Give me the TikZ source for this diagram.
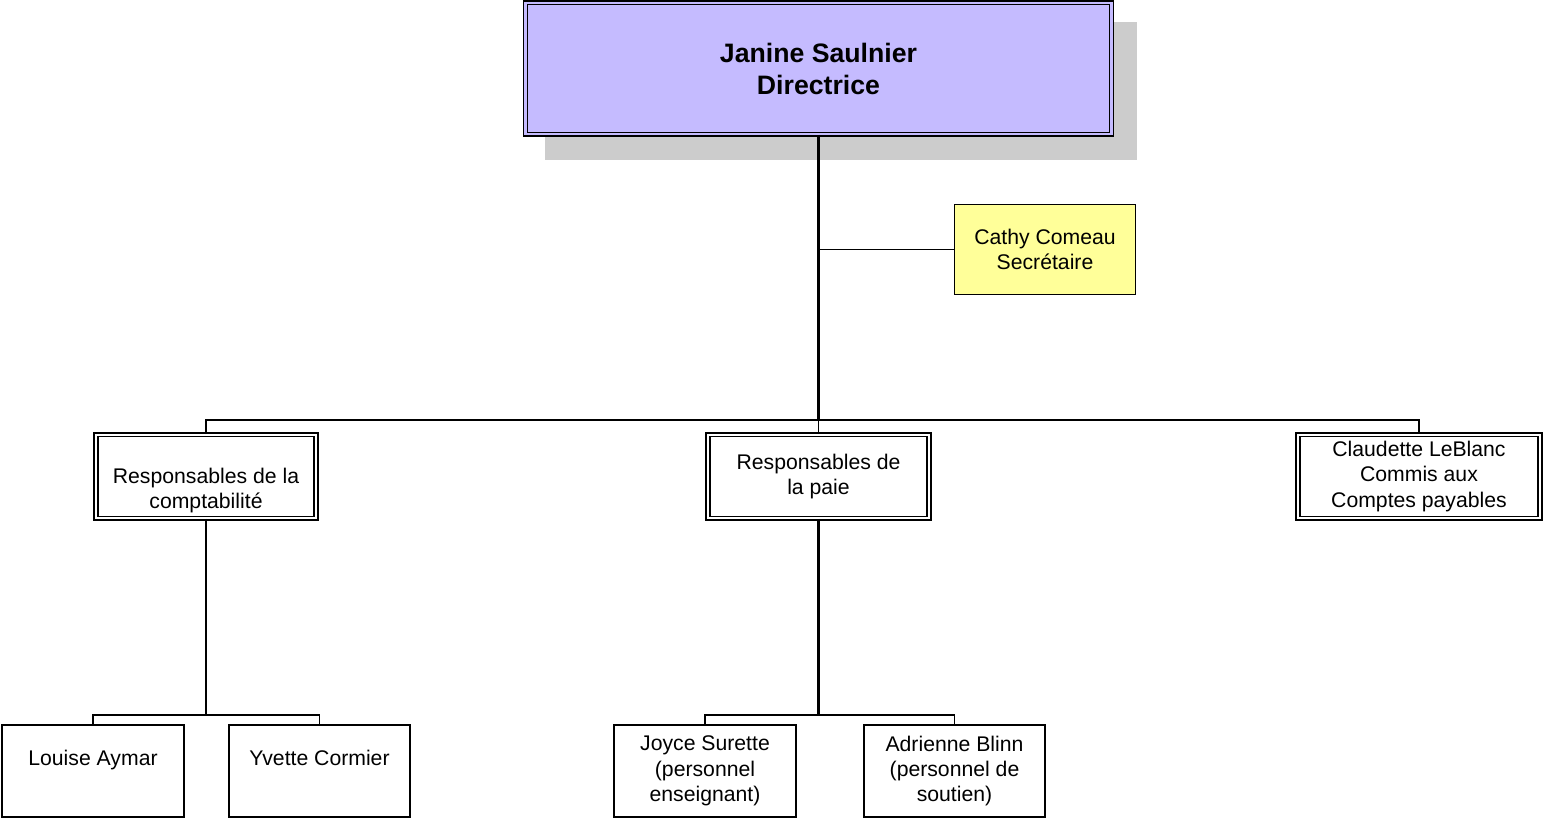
\documentclass[tikz,border=0pt]{standalone}
\usepackage{fontspec}
\setmainfont{Liberation Sans}
\definecolor{lav}{RGB}{197,187,255}
\definecolor{yel}{RGB}{255,255,153}
\definecolor{shd}{RGB}{204,204,204}
\begin{document}
\begin{tikzpicture}[x=0.75pt,y=-0.75pt,
  dbox/.style={draw=black,line width=1.1pt,double=white,double distance=1.6pt,
    inner sep=0pt,align=center,font=\fontsize{15.9}{19.1}\selectfont},
  sbox/.style={draw=black,line width=1pt,inner sep=0pt,align=center,
    font=\fontsize{15.9}{19.1}\selectfont},
  conn/.style={draw=black,line width=1.3pt},
  bconn/.style={draw=black,line width=1.6pt}]
\useasboundingbox (0,0) rectangle (1544,819);
% shadow of top box
\fill[shd] (545,22) rectangle (1137,160);
% top box
\node[dbox,double=lav,fill=lav,minimum width=439.5pt,minimum height=98.5pt,
  font=\fontsize{20}{24}\selectfont\bfseries] (top) at (818.5,68.5)
  {Janine Saulnier\\Directrice};
% secretary
\node[sbox,fill=yel,minimum width=135.75pt,minimum height=67.5pt] (sec) at (1045,249.5)
  {Cathy Comeau\\Secrétaire};
% middle level
\node[dbox,minimum width=165pt,minimum height=62.5pt] (compta) at (206,476.5)
  {\strut\\Responsables de la\\comptabilité};
\node[dbox,minimum width=165.75pt,minimum height=62.5pt] (paie) at (818.5,476.5)
  {Responsables de\\la paie};
\node[dbox,minimum width=181.5pt,minimum height=62.5pt] (claud) at (1419,476.5)
  {Claudette LeBlanc\\Commis aux\\Comptes payables};
% bottom level
\node[sbox,minimum width=136.5pt,minimum height=69pt] (louise) at (93,771)
  {Louise Aymar\\\mbox{}};
\node[sbox,minimum width=135.75pt,minimum height=69pt] (yvette) at (319.5,771)
  {Yvette Cormier\\\mbox{}};
\node[sbox,minimum width=136.5pt,minimum height=69pt] (joyce) at (705,771)
  {Joyce Surette\\(personnel\\enseignant)};
\node[sbox,minimum width=135.75pt,minimum height=69pt] (adri) at (954.5,771)
  {Adrienne Blinn\\(personnel de\\soutien)};
% junction coordinates
\coordinate (hub) at (818.5,420);
\coordinate (sj) at (818.5,249.5);
\coordinate (cj) at (206,715);
\coordinate (pj) at (818.5,715);
% connectors
\draw[bconn] (top.south) -- (hub);
\draw[conn] (sj) -- (sec.west);
\draw[conn] (compta.north) -- (compta.north |- hub) -- (claud.north |- hub) -- (claud.north);
\draw[conn] (paie.north) -- (hub);
\draw[bconn] (compta.south) -- (cj);
\draw[conn] (louise.north) -- (louise.north |- cj) -- (yvette.north |- cj) -- (yvette.north);
\draw[bconn] (paie.south) -- (pj);
\draw[conn] (joyce.north) -- (joyce.north |- pj) -- (adri.north |- pj) -- (adri.north);
\end{tikzpicture}
\end{document}
